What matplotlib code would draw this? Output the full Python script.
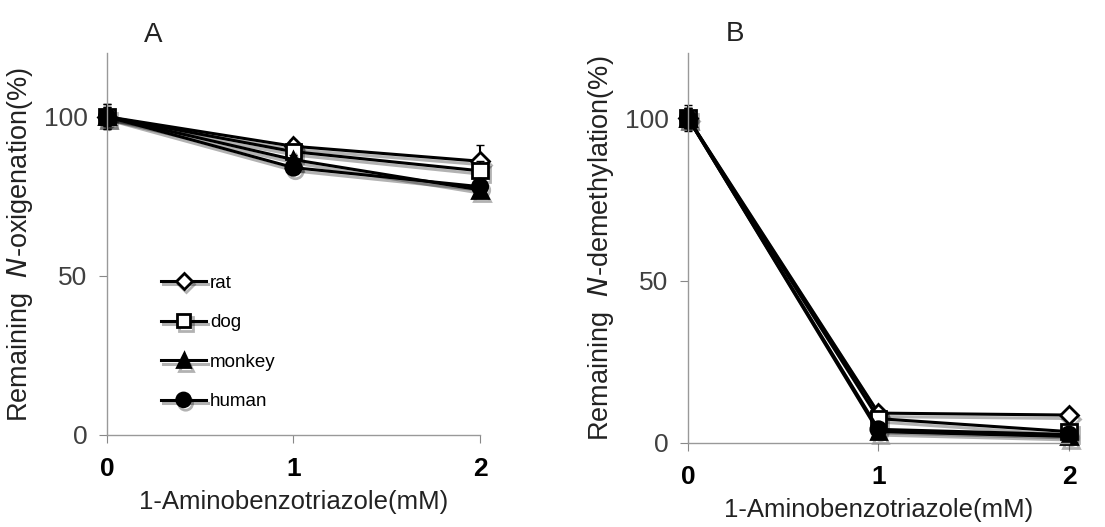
import matplotlib.pyplot as plt
import matplotlib.patheffects as pe

plt.rcParams['font.family'] = ['Liberation Sans', 'DejaVu Sans']

# ABT concentration (mM)
conc = [0, 1, 2]
species = ['rat', 'dog', 'monkey', 'human']
markers = ['D', 's', '^', 'o']
faces = ['white', 'white', 'black', 'black']
msizes = [9, 11, 11, 11]

# remaining N-oxigenation activity (%)
oxi_rat = [100, 90.7, 86]
oxi_dog = [100, 89, 83]
oxi_monkey = [100, 86.5, 77]
oxi_human = [100, 84, 78]
oxi_err_rat = [4, 2, 5]
oxi_err_dog = [4, 2, 3]
oxi_err_monkey = [3, 1.5, 2]
oxi_err_human = [3, 1.5, 2]

# remaining N-demethylation activity (%)
dem_rat = [100, 9.2, 8.6]
dem_dog = [100, 7.5, 3.5]
dem_monkey = [100, 3.5, 2]
dem_human = [100, 4.2, 2.6]
dem_err_rat = [4, 1, 1]
dem_err_dog = [3, 1, 1]
dem_err_monkey = [3, 1, 1]
dem_err_human = [3, 1, 1]

oxi = [oxi_rat, oxi_dog, oxi_monkey, oxi_human]
oxi_err = [oxi_err_rat, oxi_err_dog, oxi_err_monkey, oxi_err_human]
dem = [dem_rat, dem_dog, dem_monkey, dem_human]
dem_err = [dem_err_rat, dem_err_dog, dem_err_monkey, dem_err_human]

fig = plt.figure(figsize=(11.05, 5.27), dpi=100)
axA = fig.add_axes([0.0968, 0.1746, 0.3376, 0.7248])
axB = fig.add_axes([0.6226, 0.1594, 0.3448, 0.7400])

shadow = [pe.SimpleLineShadow(offset=(1.5, -2.5), shadow_color='black', alpha=0.3), pe.Normal()]


def draw_panel(ax, data, errs, letter, ylabel):
    for vals, err, name, m, fc, ms in zip(data, errs, species, markers, faces, msizes):
        ax.errorbar(conc, vals, yerr=err, fmt='none', ecolor='black',
                    capsize=3, elinewidth=1.5, clip_on=False)
        line, = ax.plot(conc, vals, color='black', lw=2.2, marker=m, markersize=ms,
                        markerfacecolor=fc, markeredgecolor='black', markeredgewidth=2,
                        label=name, clip_on=False)
        line.set_path_effects(shadow)
    ax.set_xlim(0, 2)
    ax.set_ylim(0, 120)
    ax.set_xticks(conc)
    ax.set_xticklabels(['0', '1', '2'], fontsize=19, fontweight='bold')
    ax.set_yticks([0, 50, 100])
    ax.tick_params(axis='y', labelsize=19, labelcolor='#404040', color='#888888', length=6, pad=8)
    ax.tick_params(axis='x', color='#888888', length=6, pad=10)
    for s in ['top', 'right']:
        ax.spines[s].set_visible(False)
    for s in ['left', 'bottom']:
        ax.spines[s].set_color('#999999')
        ax.spines[s].set_linewidth(1)
    ax.set_xlabel('1-Aminobenzotriazole(mM)', fontsize=18.5, color='#222222', labelpad=6)
    ax.set_ylabel(ylabel, fontsize=19.5, color='#222222', labelpad=6)
    ax.text(0.1, 1.03, letter, transform=ax.transAxes, fontsize=20, color='#222222')


draw_panel(axA, oxi, oxi_err, 'A', r'Remaining  $\mathit{N}$-oxigenation(%)')
draw_panel(axB, dem, dem_err, 'B', r'Remaining  $\mathit{N}$-demethylation(%)')

axA.legend(loc='upper left', bbox_to_anchor=(0.125, 0.44), frameon=False, fontsize=13.5,
           handlelength=2.4, handletextpad=0.2, labelspacing=1.2, borderaxespad=0,
           markerscale=0.9)

fig.savefig('out.png', dpi=100)
